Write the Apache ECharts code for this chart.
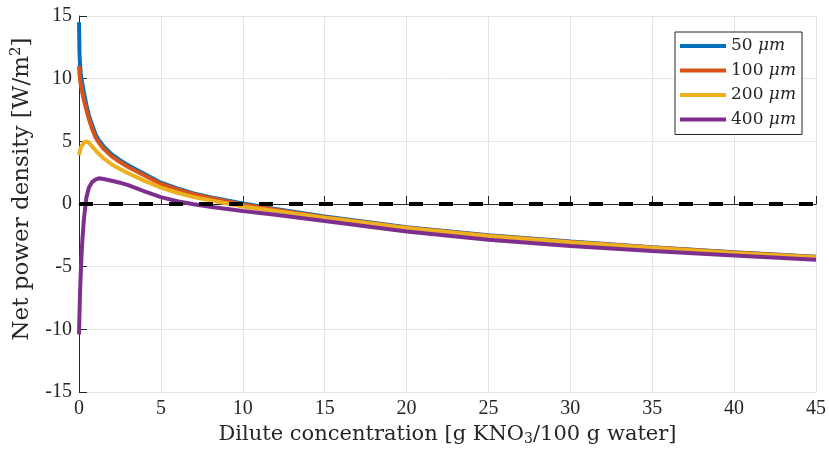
<!DOCTYPE html>
<html>
<head>
	<meta charset="utf-8" />
	<title>Net power density</title>
	<script type="text/javascript" src="https://cdn.jsdelivr.net/npm/echarts@6/dist/echarts.min.js"></script>
</head>
<body style="margin:0">
	<div id="main" style="width: 829px;height:458px;"></div>
</body>
<script>
	// dilute concentration [g KNO3 / 100 g water]
	var conc = [0, 0.03, 0.06, 0.1, 0.15, 0.2, 0.3, 0.45, 0.6, 0.8, 1, 1.2, 1.5, 2, 2.5, 3, 4, 5, 6, 7, 8, 10, 12, 15, 20, 25, 30, 35, 40, 45];
	// net power density [W/m2], one array per membrane thickness
	var p50 = [14.5, 12.0, 11.2, 10.5, 10.0, 9.6, 8.9, 7.9, 7.1, 6.3, 5.6, 5.1, 4.6, 3.95, 3.5, 3.1, 2.4, 1.7, 1.25, 0.85, 0.55, 0.05, -0.4, -1.0, -1.85, -2.5, -3.0, -3.45, -3.85, -4.2];
	var p100 = [11.0, 10.4, 10.0, 9.6, 9.2, 8.9, 8.3, 7.5, 6.8, 6.0, 5.35, 4.9, 4.4, 3.8, 3.35, 2.95, 2.28, 1.6, 1.17, 0.78, 0.48, -0.03, -0.45, -1.05, -1.9, -2.53, -3.03, -3.47, -3.87, -4.22];
	var p200 = [3.9, 4.05, 4.2, 4.4, 4.6, 4.75, 4.92, 5.0, 4.9, 4.6, 4.3, 4.0, 3.65, 3.15, 2.8, 2.45, 1.85, 1.3, 0.9, 0.55, 0.3, -0.2, -0.55, -1.1, -1.92, -2.55, -3.05, -3.5, -3.9, -4.25];
	var p400 = [-10.4, -8.8, -7.2, -5.8, -4.2, -3.0, -1.2, 0.5, 1.3, 1.75, 1.95, 2.05, 2.0, 1.85, 1.7, 1.5, 1.0, 0.55, 0.22, -0.02, -0.22, -0.55, -0.85, -1.35, -2.2, -2.85, -3.35, -3.75, -4.1, -4.45];
	var names = ['50 μm', '100 μm', '200 μm', '400 μm'];
	var colors = ['#0072BD', '#D95319', '#EDB120', '#7E2F8E'];
	var zeroX = [0, 45];
	var zeroY = [0, 0];

	function pairs(xs, ys) {
		var out = [];
		for (let i = 0; i < xs.length; i++) out.push([xs[i], ys[i]]);
		return out;
	}

	var font = 'DejaVu Serif';
	var tickFont = 'Liberation Serif';
	var axisColor = '#262626';

	var series = [p50, p100, p200, p400].map(function (ys, i) {
		return {
			name: names[i],
			type: 'line',
			data: pairs(conc, ys),
			symbol: 'none',
			smooth: false,
			lineStyle: { color: colors[i], width: 4 },
			itemStyle: { color: colors[i] },
			animation: false
		};
	});
	// dashed zero line
	series.push({
		name: 'zero',
		type: 'line',
		data: pairs(zeroX, zeroY),
		symbol: 'none',
		lineStyle: { color: '#000', width: 4, type: [14, 16] },
		animation: false,
		silent: true
	});

	var myChart = echarts.init(document.getElementById('main'));
	var option = {
		animation: false,
		grid: { left: 79, right: 13, top: 16, bottom: 66 },
		legend: {
			data: names,
			orient: 'vertical',
			left: 675,
			top: 32,
			icon: 'rect',
			itemWidth: 46,
			itemHeight: 4,
			itemGap: 4.5,
			padding: [4, 6, 5, 5],
			borderColor: axisColor,
			borderWidth: 1,
			backgroundColor: '#fff',
			formatter: function (n) {
				var p = n.split(' ');
				return '{n|' + p[0] + ' }{i|' + p[1] + '}';
			},
			textStyle: {
				color: axisColor,
				lineHeight: 20,
				rich: {
					n: { fontFamily: font, fontSize: 17, lineHeight: 20, color: axisColor },
					i: { fontFamily: font, fontSize: 17, lineHeight: 20, fontStyle: 'italic', color: axisColor }
				}
			}
		},
		xAxis: {
			type: 'value',
			min: 0,
			max: 45,
			interval: 5,
			name: '{a|Dilute concentration [g KNO}{s|3}{a|/100 g water]}',
			nameLocation: 'middle',
			nameGap: 30,
			nameTextStyle: {
				rich: {
					a: { fontFamily: font, fontSize: 21, color: axisColor },
					s: { fontFamily: font, fontSize: 14, color: axisColor, padding: [10, 0, 0, 0] }
				}
			},
			axisLine: { lineStyle: { color: axisColor } },
			axisTick: { inside: true, length: 8, lineStyle: { color: axisColor } },
			axisLabel: { fontFamily: tickFont, fontSize: 20, color: axisColor, margin: 7 },
			splitLine: { show: true, lineStyle: { color: '#e3e3e3' } }
		},
		yAxis: {
			type: 'value',
			min: -15,
			max: 15,
			interval: 5,
			name: '{a|Net power density [W/m}{s|2}{a|]}',
			nameLocation: 'middle',
			nameGap: 44,
			nameTextStyle: {
				padding: [0, 0, 0, 30],
				rich: {
					a: { fontFamily: font, fontSize: 23, color: axisColor },
					s: { fontFamily: font, fontSize: 15, color: axisColor, padding: [0, 0, 11, 0] }
				}
			},
			axisLine: { show: true, lineStyle: { color: axisColor } },
			axisTick: { show: true, inside: true, length: 8, lineStyle: { color: axisColor } },
			axisLabel: { fontFamily: tickFont, fontSize: 20, color: axisColor, margin: 7 },
			splitLine: { show: true, lineStyle: { color: '#e3e3e3' } }
		},
		series: series
	};
	myChart.setOption(option);
</script>
</html>
